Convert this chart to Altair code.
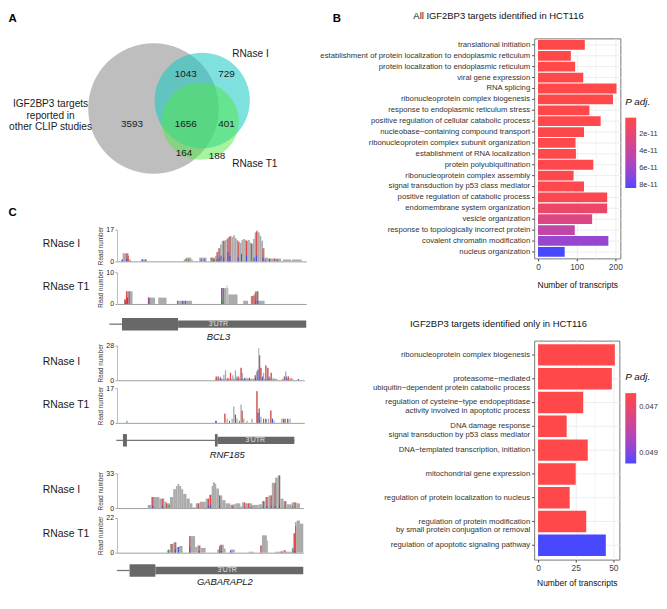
import altair as alt
import pandas as pd

FONT = "Liberation Sans"
INK = "#1a1a1a"

# ======================= Panel A : Venn data =======================
venn_set_labels = ["IGF2BP3 targets\nreported in\nother CLIP studies", "RNase I", "RNase T1"]
venn_region_counts = [3593, 1043, 729, 1656, 401, 164, 188]

# layout of the Venn figure (reference pixel space)
VENN_CIRCLES = [  # cx, cy, r, fill, opacity
    (154.8, 102.0, 69.0, "#939393", 0.6),
    (206.3, 93.6, 50.3, "#14C8C3", 0.55),
    (204.2, 115.5, 40.8, "#50E846", 0.5),
]
VENN_COUNT_XY = [(132, 118), (189, 66), (232, 66), (189, 118), (232, 118), (187, 149), (222, 152)]
VENN_SET_XY = [(46, 97, "center"), (238, 45, "left"), (238, 161, "left")]
PANEL_LETTERS = [("A", 6, 8), ("C", 6, 212)]
VSCALE = 0.955  # page compression so the figure fits the 8px-margin page

# ======================= Panel B : GO enrichment data =======================
top_terms = [
    "translational initiation",
    "establishment of protein localization to endoplasmic reticulum",
    "protein localization to endoplasmic reticulum",
    "viral gene expression",
    "RNA splicing",
    "ribonucleoprotein complex biogenesis",
    "response to endoplasmic reticulum stress",
    "positive regulation of cellular catabolic process",
    "nucleobase\u2212containing compound transport",
    "ribonucleoprotein complex subunit organization",
    "establishment of RNA localization",
    "protein polyubiquitination",
    "ribonucleoprotein complex assembly",
    "signal transduction by p53 class mediator",
    "positive regulation of catabolic process",
    "endomembrane system organization",
    "vesicle organization",
    "response to topologically incorrect protein",
    "covalent chromatin modification",
    "nucleus organization",
]
top_counts = [121, 85, 96, 117, 203, 194, 133, 162, 119, 97, 98, 143, 92, 119, 179, 179, 140, 95, 182, 69]
top_padj = [1.2e-12, 1.3e-12, 1.4e-12, 1.5e-12, 1.6e-12, 1.8e-12, 2.0e-12, 2.2e-12, 2.4e-12, 2.6e-12,
            2.8e-12, 3.0e-12, 3.3e-12, 3.6e-12, 5.0e-12, 1.5e-11, 2.7e-11, 4.3e-11, 6.2e-11, 8.3e-11]

bot_terms = [
    "ribonucleoprotein complex biogenesis",
    "proteasome\u2212mediated\nubiquitin\u2212dependent protein catabolic process",
    "regulation of cysteine\u2212type endopeptidase\nactivity involved in apoptotic process",
    "DNA damage response\nsignal transduction by p53 class mediator",
    "DNA\u2212templated transcription, initiation",
    "mitochondrial gene expression",
    "regulation of protein localization to nucleus",
    "regulation of protein modification\nby small protein conjugation or removal",
    "regulation of apoptotic signaling pathway",
]
bot_counts = [51, 49, 30, 19, 33, 25, 21, 32, 45]
bot_padj = [0.04643, 0.04643, 0.04643, 0.04643, 0.04643, 0.04643, 0.04643, 0.04643, 0.04945]

chart_titles = ["All IGF2BP3 targets identified in HCT116", "IGF2BP3 targets identified only in HCT116"]

# ======================= Panel C : read coverage data =======================
# positions are window coordinates along each locus, reads = read number
bcl3_rI_start = [75, 80, 98, 135, 265, 272, 288, 312, 345,
                 360, 365, 370, 375, 380, 385, 390, 395, 400, 405, 410, 415, 420, 425, 430,
                 435, 440, 445, 450, 455, 460, 465, 470, 475, 480, 485, 490, 495, 500, 505,
                 510, 520, 565, 592]
bcl3_rI_end = [80, 98, 105, 153, 272, 288, 292, 334, 360,
               365, 370, 375, 380, 385, 390, 395, 400, 405, 410, 415, 420, 425, 430, 435,
               440, 445, 450, 455, 460, 465, 470, 475, 480, 485, 490, 495, 500, 505, 510,
               520, 560, 590, 622]
bcl3_rI_reads = [1, 4.3, 1, 1, 1, 2, 1, 2, 2,
                 3, 5, 7, 9, 11, 11, 11.5, 12, 13, 13.5, 13, 14, 12.5, 11.5, 10.5,
                 10, 11.5, 12, 11.5, 11, 11.5, 10, 9.5, 12, 15.5, 16.5, 15.5, 13.5, 11, 7,
                 2, 1.5, 1, 1]
bcl3_rI_T = ([93, 97, 272, 350, 366, 372, 386, 399, 405, 430, 455, 470, 485, 505, 525, 540],
             [4.3, 3, 1.5, 2, 5, 7, 11, 12.5, 13.5, 10.5, 11, 9.5, 16, 7, 1.5, 1.5])
bcl3_rI_C = ([80, 93, 140, 150, 318, 328, 355, 366, 372, 378, 386, 399, 405, 430, 440, 455, 478, 485, 505, 512, 525, 548],
             [1, 1.5, 1, 1, 1, 1, 1, 1, 2, 3, 2, 5, 3, 2, 4, 3, 2, 3, 2, 1, 1, 1])
bcl3_rI_A = ([280, 358], [1, 1])

bcl3_rT_start = [85, 90, 157, 188, 245, 378, 395, 397, 400, 445, 468, 480, 492]
bcl3_rT_end = [90, 110, 178, 213, 290, 395, 397, 400, 428, 460, 480, 492, 510]
bcl3_rT_reads = [1.5, 4, 2, 2, 1, 5, 6, 5, 3, 1, 2.5, 4, 1]
bcl3_rT_T = ([87, 92, 100, 158, 246, 385, 472, 478, 483, 488], [1.5, 4, 4, 2, 1, 5, 2.5, 3, 3.5, 4])
bcl3_rT_C = ([88, 95, 160, 262, 270, 380, 483, 490], [1, 2, 2, 1, 1, 5, 1, 1])
bcl3_rT_A = ([382], [0.8])

rnf_rI_start = [358, 560, 608, 360, 366, 373, 383, 388, 403, 410, 418, 435, 439, 453, 478,
                482, 486, 489, 492, 495, 503, 510, 516, 526, 534, 544, 566, 570, 578, 586]
rnf_rI_end = [545, 595, 612, 364, 370, 377, 387, 392, 407, 414, 422, 439, 443, 457, 482,
              486, 489, 492, 495, 499, 507, 514, 520, 530, 537, 547, 570, 574, 582, 590]
rnf_rI_reads = [1.2, 1.2, 1, 3, 3, 3, 4.5, 8, 6, 4, 8, 10, 6, 2, 4,
                7, 9, 26, 20, 10, 6, 12, 10, 6, 2, 1, 3, 7, 3, 2]
rnf_rI_T = ([362, 368, 397, 405, 430, 437, 480, 493, 497, 512, 518, 528, 568, 580],
            [3, 3, 2, 6, 3, 10, 4, 20, 10, 12, 10, 6, 3, 3])
rnf_rI_C = ([375, 425, 448, 462, 481, 488, 502, 522, 575, 610], [2, 3, 2, 2, 2, 8, 3, 3, 3, 1])
rnf_rI_A = ([440], [1])

rnf_rT_start = [386, 393, 408, 413, 418, 423, 435, 439, 443, 453, 468, 483, 487, 490, 495,
                503, 510, 518, 525, 530, 535, 558, 563, 568, 576, 583]
rnf_rT_end = [390, 397, 412, 417, 422, 427, 439, 442, 447, 457, 472, 487, 490, 494, 499,
              507, 514, 522, 529, 534, 539, 562, 567, 572, 580, 587]
rnf_rT_reads = [4.5, 2, 2, 8, 4, 2, 9, 6, 2, 1, 2, 15.5, 5, 7, 3,
                2, 2, 2, 6, 2, 1, 2, 2, 2, 2, 2]
rnf_rT_T = ([360, 388, 440, 485, 492, 505, 527, 570], [1, 4.5, 6, 15.5, 7, 2, 6, 2])
rnf_rT_C = ([362, 402, 420, 488, 512, 532, 578], [1, 1, 4, 5, 2, 2, 2])
rnf_rT_A = ([92, 432, 493, 565], [1, 1, 2, 2])

gab_rI_start = [155, 165, 190, 205, 212, 222, 232, 240, 245, 250, 256, 262, 272, 282, 290,
                300, 312, 330, 340, 348, 352, 358, 362, 370, 380, 390, 405, 412, 420, 435,
                440, 450, 470, 490, 500, 510, 520, 530, 540, 548, 556, 565, 575, 590, 605]
gab_rI_end = [165, 190, 205, 212, 222, 232, 240, 245, 250, 256, 262, 272, 282, 290, 300,
              312, 330, 340, 348, 352, 358, 362, 370, 380, 390, 405, 412, 420, 435, 440,
              450, 470, 490, 500, 510, 520, 530, 540, 548, 556, 565, 575, 590, 605, 615]
gab_rI_reads = [3, 10.5, 9, 6, 4.5, 10.5, 18, 21, 23, 21, 18, 13.5, 9, 4.5, 0.6,
                4.5, 6, 9, 12.6, 21, 24.5, 23, 18.6, 12, 7.5, 4.5, 3, 3.6, 4.5, 1.5,
                5.4, 4.5, 3, 3.6, 6.6, 10.5, 12, 24, 29, 31, 9, 6.6, 3.6, 5.4, 4.5]
gab_rI_T = ([170, 200, 212, 308, 338, 345, 372, 410, 448, 460, 505, 515, 528, 540, 553, 570, 600],
            [10.5, 9, 4.5, 4.5, 9, 12.6, 12, 3, 5.4, 4.5, 6.6, 10.5, 12, 24, 31, 6.6, 5.4])
gab_rI_C = ([170, 200, 308, 338, 345, 372, 412, 448, 468, 505, 515, 528, 540, 553, 570],
            [2, 2, 1, 2, 3, 2, 1, 1, 1, 1, 2, 2, 2, 3, 1])
gab_rI_A = ([220, 592], [3, 2])

gab_rT_start = [213, 222, 232, 242, 250, 280, 298, 305, 315, 365, 372, 385, 405, 460, 495,
                500, 515, 540, 565, 570, 590, 595, 600, 605, 615]
gab_rT_end = [222, 232, 242, 250, 260, 298, 305, 315, 330, 372, 385, 390, 418, 475, 500,
              515, 518, 565, 570, 590, 595, 600, 605, 615, 625]
gab_rT_reads = [1.6, 5.5, 6.5, 3.6, 4.2, 10.5, 3.6, 4.5, 3, 2, 5, 2.6, 2, 0.6, 4.5,
                11, 7.5, 0.6, 1.6, 0.6, 2.6, 12.5, 19.4, 20.4, 18.4]
gab_rT_T = ([228, 238, 282, 310, 372, 377, 497, 570, 598, 602], [5.5, 6.5, 10.5, 4.5, 4, 5, 4.5, 1.6, 12, 17])
gab_rT_C = ([238, 248, 282, 310, 372, 377, 405, 560, 598], [2, 3.6, 3.5, 1, 1, 1, 1.5, 1, 1])
gab_rT_A = ([218, 594], [2, 3])

# gene models: intron line, coding exons, 3'UTR
bcl3_model = {"name": "BCL3", "line": (40, 78), "cds": ([78], [248]), "utr": ([248], [636]), "utr_label": 370, "name_pos": 370}
rnf_model = {"name": "RNF185", "line": (60, 598), "cds": ([80, 358], [92, 366]), "utr": ([366], [598]), "utr_label": 480, "name_pos": 395}
gab_model = {"name": "GABARAPL2", "line": (62, 100), "cds": ([100], [178]), "utr": ([178], [625]), "utr_label": 395, "name_pos": 388}

track_labels = ["RNase I", "RNase T1"]

# ======================= styles / layout =======================
GREY = "#ABABAB"
BASE_COLORS = {"T": "#E53E3E", "C": "#3F51E0", "A": "#33A033"}
GENE_GREY = "#686868"
TOP_GHOST = -27.0      # invisible anchor above first plot row (same in both columns)
LETTER_Y = -19.2       # panel letter B, relative to first plot top


def ghost(x):
    d = pd.DataFrame({"g": [0]})
    return alt.Chart(d).mark_rule(color="white", strokeWidth=0.5).encode(
        x=alt.value(x), y=alt.value(TOP_GHOST), y2=alt.value(TOP_GHOST + 0.5))


def venn_chart():
    H = 193
    x0 = 111 / VSCALE
    vx = alt.Scale(domain=[x0, x0 + 191 / VSCALE], nice=False, zero=False)
    vy = alt.Scale(domain=[28, 230], nice=False, zero=False, reverse=True)
    layers = [ghost(0)]
    for (cx, cy, r, fill, op) in VENN_CIRCLES:
        d = pd.DataFrame({"x": [cx], "y": [cy], "sz": [(2 * r * VSCALE) ** 2]})
        layers.append(
            alt.Chart(d).mark_point(filled=True, shape="circle", color=fill, opacity=op, strokeWidth=0).encode(
                x=alt.X("x:Q", scale=vx, axis=None),
                y=alt.Y("y:Q", scale=vy, axis=None),
                size=alt.Size("sz:Q", scale=None, legend=None),
            )
        )
    cnt = pd.DataFrame({
        "x": [p[0] for p in VENN_COUNT_XY],
        "y": [p[1] for p in VENN_COUNT_XY],
        "n": [str(v) for v in venn_region_counts],
    })
    layers.append(alt.Chart(cnt).mark_text(fontSize=10, color=INK, baseline="middle").encode(
        x=alt.X("x:Q", scale=vx, axis=None), y=alt.Y("y:Q", scale=vy, axis=None), text="n:N"))
    for lab, (x, y, al) in zip(venn_set_labels, VENN_SET_XY):
        d = pd.DataFrame({"x": [x], "y": [y], "t": [lab]})
        layers.append(alt.Chart(d).mark_text(fontSize=10.2, color=INK, align=al, baseline="middle",
                                             lineBreak="\n", lineHeight=12).encode(
            x=alt.X("x:Q", scale=vx, axis=None), y=alt.Y("y:Q", scale=vy, axis=None), text="t:N"))
    pl = pd.DataFrame({"t": [p[0] for p in PANEL_LETTERS], "x": [p[1] for p in PANEL_LETTERS],
                       "y": [p[2] for p in PANEL_LETTERS]})
    layers.append(alt.Chart(pl).mark_text(fontSize=11.5, fontWeight="bold", color="#000", baseline="middle").encode(
        x=alt.X("x:Q", scale=vx, axis=None), y=alt.Y("y:Q", scale=vy, axis=None), text="t:N"))
    return alt.layer(*layers).properties(width=191, height=H)


def spacer(h):
    d = pd.DataFrame({"g": [0]})
    return alt.Chart(d).mark_point(opacity=0, size=1).encode(
        x=alt.value(0), y=alt.value(0)).properties(width=1, height=h)


def track(start, end, reads, mism, domain, width, height, ymax, label):
    xs = alt.Scale(domain=domain, nice=False, zero=False)
    ys = alt.Scale(domain=[0, ymax], nice=False, zero=True)
    xax = alt.Axis(title=None, labels=False, ticks=False, grid=False, domainColor="#9E9E9E", domainWidth=1)
    yax = alt.Axis(title="Read number", values=[0, ymax], grid=False, domainColor="#BDBDBD", tickColor="#9E9E9E",
                   tickSize=2, labelFontSize=7, labelColor="#222", labelPadding=1.5, titleFontSize=6.4,
                   titleFontWeight="normal", titleColor="#333", titlePadding=2)
    cov_df = pd.DataFrame({"start": start, "end": end, "reads": reads})
    layers = [alt.Chart(cov_df).mark_rect(color=GREY).encode(
        x=alt.X("start:Q", scale=xs, axis=xax), x2="end:Q",
        y=alt.Y("reads:Q", scale=ys, axis=yax), y2=alt.datum(0))]
    for base in ["T", "C", "A"]:
        pos, rd = mism[base]
        d = pd.DataFrame({"start": pos, "reads": rd})
        layers.append(alt.Chart(d).mark_rule(color=BASE_COLORS[base], strokeWidth=1).encode(
            x=alt.X("start:Q", scale=xs, axis=xax),
            y=alt.Y("reads:Q", scale=ys, axis=yax), y2=alt.datum(0)))
    lab = pd.DataFrame({"label": [label]})
    layers.append(alt.Chart(lab).mark_text(align="left", baseline="middle", fontSize=10.5, color=INK).encode(
        x=alt.value(-75), y=alt.value(height / 2 - 1), text="label:N"))
    return alt.layer(*layers).properties(width=width, height=height)


def gene(model, domain, width, height, center, name_y):
    xs = alt.Scale(domain=domain, nice=False, zero=False)
    line_df = pd.DataFrame({"start": [model["line"][0]], "end": [model["line"][1]]})
    cds_df = pd.DataFrame({"start": model["cds"][0], "end": model["cds"][1]})
    utr_df = pd.DataFrame({"start": model["utr"][0], "end": model["utr"][1]})
    utr_lab = pd.DataFrame({"pos": [model["utr_label"]], "t": ["3'UTR"]})
    name_lab = pd.DataFrame({"pos": [model["name_pos"]], "t": [model["name"]]})
    layers = [
        alt.Chart(line_df).mark_rule(color="#757575", strokeWidth=1.3).encode(
            x=alt.X("start:Q", scale=xs, axis=None), x2="end:Q", y=alt.value(center)),
        alt.Chart(cds_df).mark_rect(color=GENE_GREY).encode(
            x=alt.X("start:Q", scale=xs, axis=None), x2="end:Q",
            y=alt.value(center - 6.3), y2=alt.value(center + 6.3)),
        alt.Chart(utr_df).mark_rect(color=GENE_GREY).encode(
            x=alt.X("start:Q", scale=xs, axis=None), x2="end:Q",
            y=alt.value(center - 3.7), y2=alt.value(center + 3.7)),
        alt.Chart(utr_lab).mark_text(color="#E2E2E2", fontSize=7, baseline="middle").encode(
            x=alt.X("pos:Q", scale=xs, axis=None), y=alt.value(center), text="t:N"),
        alt.Chart(name_lab).mark_text(color="#111", fontSize=9.5, fontStyle="italic", baseline="middle").encode(
            x=alt.X("pos:Q", scale=xs, axis=None), y=alt.value(name_y), text="t:N"),
    ]
    return alt.layer(*layers).properties(width=width, height=height)


def go_chart(terms, counts, padj, title, width, height, xdomain, xvalues, major, cdomain, lvalues, lfmt,
             legend_y, title_x, title_y, axis_title_pad, extra=None):
    df = pd.DataFrame({"term": terms, "transcripts": counts, "padj": padj})
    major_test = f"abs(datum.value / {major} - round(datum.value / {major})) < 1e-6"
    xaxis = alt.Axis(
        values=xvalues, title="Number of transcripts", titleFontSize=8.5, titleFontWeight="normal",
        titleColor="#111", titlePadding=axis_title_pad,
        labelExpr=f"{major_test} ? datum.label : ''", labelFontSize=8.5, labelColor="#444",
        labelFlush=False, labelPadding=2, tickSize=2.5,
        tickColor={"condition": {"test": major_test, "value": "#444"}, "value": "transparent"},
        grid=True, gridColor="#EBEBEB",
        gridWidth={"condition": {"test": major_test, "value": 0.9}, "value": 0.5},
        domain=False,
    )
    yaxis = alt.Axis(
        title=None, labelExpr="split(datum.label, '\\n')", labelFontSize=7.8, labelColor="#333",
        labelLimit=400, labelLineHeight=9, tickSize=2.5, tickColor="#444", domain=False,
        grid=True, gridColor="#EBEBEB", gridWidth=0.9, labelPadding=2, bandPosition=0.5,
    )
    color = alt.Color(
        "negp:Q",
        scale=alt.Scale(domain=cdomain, range=["#4848FF", "#FF4848"], interpolate="lab"),
        legend=alt.Legend(
            title="P adj.", orient="none", legendX=92, legendY=legend_y, direction="vertical",
            gradientLength=71, gradientThickness=11, gradientStrokeWidth=0, values=lvalues,
            labelExpr=f"format(-datum.value, '{lfmt}')", labelFontSize=7.5, labelColor="#333",
            labelOffset=3, labelOverlap=False, titleFontSize=10, titleFontStyle="italic",
            titleFontWeight="normal", titlePadding=11, titleColor="#111",
        ),
    )
    bars = alt.Chart(df).transform_calculate(negp="-datum.padj").mark_bar().encode(
        y=alt.Y("term:N", sort=terms, scale=alt.Scale(paddingInner=0.1, paddingOuter=0.15), axis=yaxis),
        x=alt.X("transcripts:Q", scale=alt.Scale(domain=xdomain, nice=False, zero=False), axis=xaxis),
        x2=alt.datum(0),
        color=color,
    )
    tt = pd.DataFrame({"t": [title]})
    ttl = alt.Chart(tt).mark_text(fontSize=9.5, color="#111", baseline="middle", align="center").encode(
        x=alt.value(title_x), y=alt.value(title_y), text="t:N")
    layers = [bars, ttl]
    if extra is not None:
        layers.extend(extra)
    return alt.layer(*layers).properties(
        width=width, height=height,
        view=alt.ViewBackground(stroke="#777", strokeWidth=1),
    )


def mm(T, C, A):
    return {"T": T, "C": C, "A": A}


# ---------- left column (flat, flush) ----------
left = alt.vconcat(
    venn_chart(),
    track(bcl3_rI_start, bcl3_rI_end, bcl3_rI_reads, mm(bcl3_rI_T, bcl3_rI_C, bcl3_rI_A), [63, 636], 191, 32, 17, track_labels[0]),
    spacer(11),
    track(bcl3_rT_start, bcl3_rT_end, bcl3_rT_reads, mm(bcl3_rT_T, bcl3_rT_C, bcl3_rT_A), [63, 636], 191, 32, 10, track_labels[1]),
    gene(bcl3_model, [63, 636], 191, 42, 20.4, 33.5),
    track(rnf_rI_start, rnf_rI_end, rnf_rI_reads, mm(rnf_rI_T, rnf_rI_C, rnf_rI_A), [62, 628], 189, 35, 28, track_labels[0]),
    spacer(8),
    track(rnf_rT_start, rnf_rT_end, rnf_rT_reads, mm(rnf_rT_T, rnf_rT_C, rnf_rT_A), [62, 628], 189, 35, 17, track_labels[1]),
    gene(rnf_model, [62, 628], 189, 51, 17.6, 32.6),
    track(gab_rI_start, gab_rI_end, gab_rI_reads, mm(gab_rI_T, gab_rI_C, gab_rI_A), [62, 625], 188, 35, 33, track_labels[0]),
    spacer(10),
    track(gab_rT_start, gab_rT_end, gab_rT_reads, mm(gab_rT_T, gab_rT_C, gab_rT_A), [62, 625], 188, 35, 22, track_labels[1]),
    gene(gab_model, [62, 625], 188, 36, 18, 30),
    spacing=0, bounds="flush",
)

# ---------- right column ----------
b_letter = alt.Chart(pd.DataFrame({"t": ["B"]})).mark_text(
    fontSize=11.5, fontWeight="bold", color="#000", baseline="middle").encode(
    x=alt.value(-199), y=alt.value(LETTER_Y), text="t:N")

top = go_chart(top_terms, top_counts, top_padj, chart_titles[0], 87, 222,
               [-10, 213], [0, 50, 100, 150, 200], 100, [-8.3e-11, -1.1e-12],
               [-2e-11, -4e-11, -6e-11, -8e-11], ".0e", 59, -36, -22.2, 9,
               extra=[b_letter, ghost(-212)])
bottom = go_chart(bot_terms, bot_counts, bot_padj, chart_titles[1], 86, 221,
                  [-2.6, 54], [0, 12.5, 25, 37.5, 50], 25, [-0.04945, -0.04640],
                  [-0.047, -0.049], ".3f", 32, -36, -17, 6)
right = alt.vconcat(top, bottom, spacing=83, bounds="flush").resolve_scale(
    color="independent", x="independent", y="independent").resolve_legend(color="independent")

chart = alt.hconcat(left, right, spacing=13).resolve_scale(
    color="independent").properties(padding=0).configure(font=FONT).configure_view(stroke=None)

chart.save("out.html", embed_options={"renderer": "svg", "actions": False})
